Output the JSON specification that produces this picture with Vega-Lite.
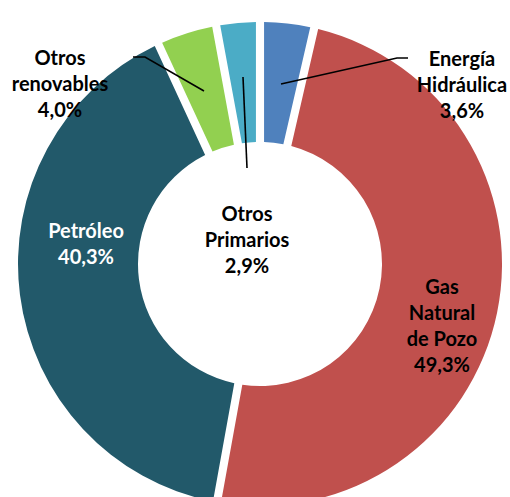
{
  "$schema": "https://vega.github.io/schema/vega-lite/v6.json",
  "width": 480,
  "height": 480,
  "autosize": {"type": "none"},
  "padding": {"left": 20, "top": 24, "right": 10, "bottom": 0},
  "background": "white",
  "config": {"view": {"stroke": null}},
  "layer": [
    {
      "data": {
        "values": [
          {"fuente": "Energía Hidráulica", "pct": 3.6, "idx": 1},
          {"fuente": "Gas Natural de Pozo", "pct": 49.3, "idx": 2},
          {"fuente": "Petróleo", "pct": 40.3, "idx": 3},
          {"fuente": "Otros renovables", "pct": 4.0, "idx": 4},
          {"fuente": "Otros Primarios", "pct": 2.9, "idx": 5}
        ]
      },
      "mark": {"type": "arc", "innerRadius": 122, "outerRadius": 242, "padAngle": 0.03},
      "encoding": {
        "theta": {"field": "pct", "type": "quantitative", "stack": true},
        "order": {"field": "idx", "type": "quantitative"},
        "color": {
          "field": "fuente",
          "type": "nominal",
          "scale": {
            "domain": ["Energía Hidráulica", "Gas Natural de Pozo", "Petróleo", "Otros renovables", "Otros Primarios"],
            "range": ["#4F81BD", "#C0504D", "#22596A", "#92D050", "#4BACC6"]
          },
          "legend": null
        }
      }
    },
    {
      "data": {
        "values": [
          {"grp": "ren", "paso": 1, "x": -127, "y": 207},
          {"grp": "ren", "paso": 2, "x": -115, "y": 207},
          {"grp": "ren", "paso": 3, "x": -56, "y": 173},
          {"grp": "hid", "paso": 1, "x": 148, "y": 206},
          {"grp": "hid", "paso": 2, "x": 137, "y": 206},
          {"grp": "hid", "paso": 3, "x": 21, "y": 180},
          {"grp": "pri", "paso": 1, "x": -17, "y": 187},
          {"grp": "pri", "paso": 2, "x": -13, "y": 96}
        ]
      },
      "mark": {"type": "line", "color": "black", "strokeWidth": 1.6},
      "encoding": {
        "x": {"field": "x", "type": "quantitative", "scale": {"domain": [-240, 240], "nice": false}, "axis": null},
        "y": {"field": "y", "type": "quantitative", "scale": {"domain": [-240, 240], "nice": false}, "axis": null},
        "detail": {"field": "grp"},
        "order": {"field": "paso", "type": "quantitative"}
      }
    },
    {
      "data": {
        "values": [
          {"fuente": "Otros renovables", "etiqueta": "Otros\nrenovables\n4,0%", "x": -200, "y": 205},
          {"fuente": "Energía Hidráulica", "etiqueta": "Energía\nHidráulica\n3,6%", "x": 202, "y": 204},
          {"fuente": "Otros Primarios", "etiqueta": "Otros\nPrimarios\n2,9%", "x": -13, "y": 49.5},
          {"fuente": "Gas Natural de Pozo", "etiqueta": "Gas\nNatural\nde Pozo\n49,3%", "x": 182, "y": -23.5},
          {"fuente": "Petróleo", "etiqueta": "Petróleo\n40,3%", "x": -174, "y": 32}
        ]
      },
      "mark": {"type": "text", "font": "Lato", "fontWeight": "bold", "fontSize": 20, "lineBreak": "\n", "lineHeight": 26, "align": "center", "baseline": "middle"},
      "encoding": {
        "x": {"field": "x", "type": "quantitative", "scale": {"domain": [-240, 240], "nice": false}, "axis": null},
        "y": {"field": "y", "type": "quantitative", "scale": {"domain": [-240, 240], "nice": false}, "axis": null},
        "text": {"field": "etiqueta"},
        "color": {"condition": {"test": "datum.fuente === 'Petróleo'", "value": "white"}, "value": "black"}
      }
    }
  ]
}
